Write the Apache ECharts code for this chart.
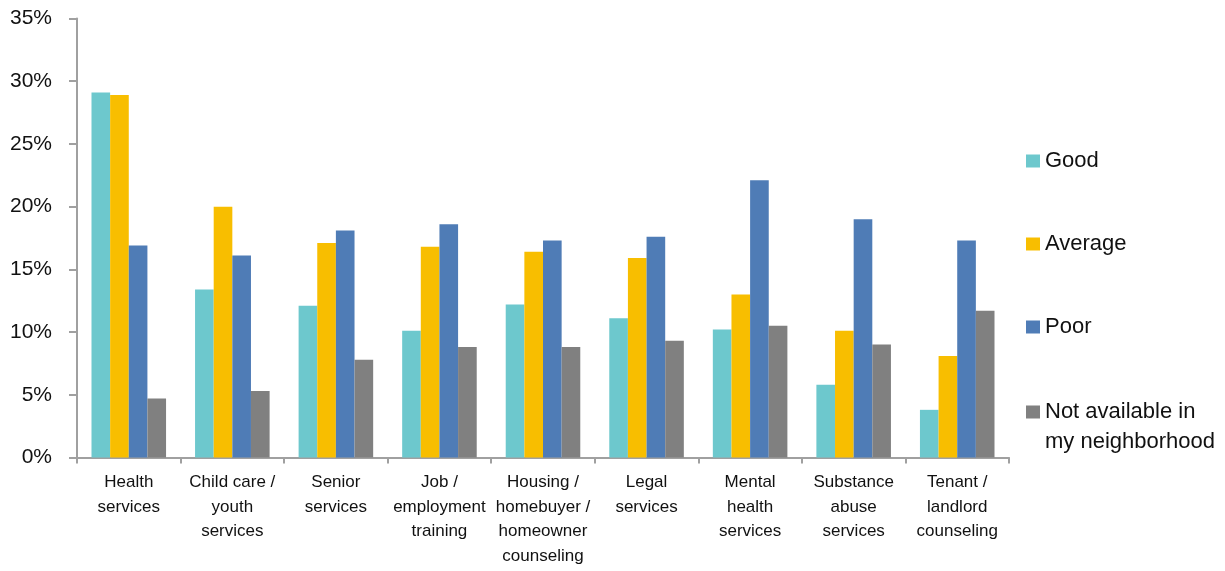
<!DOCTYPE html>
<html>
<head>
<meta charset="utf-8">
<script src="https://cdn.jsdelivr.net/npm/echarts@6/dist/echarts.min.js"></script>
<style>
  html, body { margin: 0; padding: 0; background: #fff; }
  #chart { width: 1225px; height: 571px; }
</style>
</head>
<body>
<div id="chart"></div>
<script>
// categories and the four rating series (percent)
var categories = [
  'Health\nservices',
  'Child care /\nyouth\nservices',
  'Senior\nservices',
  'Job /\nemployment\ntraining',
  'Housing /\nhomebuyer /\nhomeowner\ncounseling',
  'Legal\nservices',
  'Mental\nhealth\nservices',
  'Substance\nabuse\nservices',
  'Tenant /\nlandlord\ncounseling'
];
var good      = [29.1, 13.4, 12.1, 10.1, 12.2, 11.1, 10.2, 5.8, 3.8];
var average   = [28.9, 20.0, 17.1, 16.8, 16.4, 15.9, 13.0, 10.1, 8.1];
var poor      = [16.9, 16.1, 18.1, 18.6, 17.3, 17.6, 22.1, 19.0, 17.3];
var notAvail  = [4.7, 5.3, 7.8, 8.8, 8.8, 9.3, 10.5, 9.0, 11.7];
var yTicks    = [0, 35, 5]; // min, max, step

var FONT = '"Liberation Sans", Arial, sans-serif';
var AXIS_GREY = '#a0a0a0';

var myChart = echarts.init(document.getElementById('chart'));

function bar(name, data, color) {
    return {
        name: name,
        type: 'bar',
        data: data,
        barGap: '0%',
        barCategoryGap: '28%',
        itemStyle: { color: color },
        emphasis: { disabled: true }
    };
}

myChart.setOption({
    animation: false,
    textStyle: { fontFamily: FONT },
    grid: { left: 77, right: 216, top: 18.5, bottom: 113.5, containLabel: false },
    legend: [{
        // first three items
        orient: 'vertical',
        left: 1026,
        top: 146,
        padding: 0,
        itemWidth: 14,
        itemHeight: 13,
        itemGap: 53,
        icon: 'rect',
        selectedMode: false,
        data: ['Good', 'Average', 'Poor'],
        textStyle: { fontFamily: FONT, fontSize: 22, lineHeight: 30, color: '#111' }
    }, {
        // two-line item, icon sits next to the first line
        orient: 'vertical',
        left: 1026,
        top: 397,
        padding: 0,
        itemWidth: 14,
        itemHeight: 43,
        icon: 'path://M0,0L14,0L14,13L0,13Z M0,43L0,43Z',
        selectedMode: false,
        data: ['Not available in my neighborhood'],
        formatter: function () { return 'Not available in\nmy neighborhood'; },
        textStyle: { fontFamily: FONT, fontSize: 22, lineHeight: 30, color: '#111' }
    }],
    xAxis: {
        type: 'category',
        data: categories,
        axisLine: { lineStyle: { color: AXIS_GREY, width: 2 } },
        axisTick: { show: true, length: 6, lineStyle: { color: AXIS_GREY, width: 2 } },
        axisLabel: {
            interval: 0,
            margin: 13,
            fontFamily: FONT,
            fontSize: 17,
            lineHeight: 24.5,
            color: '#111'
        }
    },
    yAxis: {
        type: 'value',
        min: yTicks[0],
        max: yTicks[1],
        interval: yTicks[2],
        splitLine: { show: false },
        axisLine: { show: true, lineStyle: { color: AXIS_GREY, width: 2 } },
        axisTick: { show: true, length: 8, lineStyle: { color: AXIS_GREY, width: 2 } },
        axisLabel: {
            formatter: '{value}%',
            margin: 25,
            fontFamily: FONT,
            fontSize: 21,
            color: '#111'
        }
    },
    series: [
        bar('Good', good, '#6DC8CD'),
        bar('Average', average, '#F8BE00'),
        bar('Poor', poor, '#4F7CB6'),
        bar('Not available in my neighborhood', notAvail, '#808080')
    ]
});
</script>
</body>
</html>
